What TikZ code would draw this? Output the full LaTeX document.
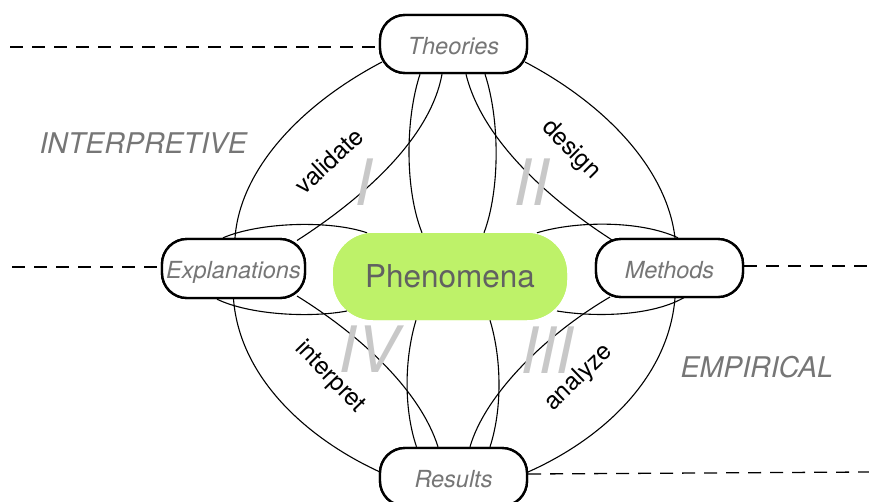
\documentclass[tikz,border=0pt]{standalone}
\usepackage{fontspec}
\setmainfont{TeX Gyre Heros}
\usetikzlibrary{calc}
\definecolor{lime}{RGB}{190,242,105}
\definecolor{labelgrey}{RGB}{118,118,118}
\definecolor{numgrey}{RGB}{200,200,200}
\begin{document}
\begin{tikzpicture}[x=1pt,y=-1pt,
  pill/.style={draw=black,line width=2.4pt,fill=white,rounded corners=25pt,
    minimum width=147pt,minimum height=58pt,inner sep=0pt,
    text height=20pt,text depth=0pt,text=labelgrey,
    font=\fontsize{23.5}{28}\selectfont\itshape},
  core/.style={fill=lime,rounded corners=40pt,minimum width=234pt,minimum height=87pt,
    inner sep=0pt,text height=22pt,text depth=0pt,text=black!62,
    font=\fontsize{31.5}{36}\selectfont},
  link/.style={line width=1.1pt},
  guide/.style={line width=1.3pt,dash pattern=on 13pt off 9pt},
  region/.style={text=labelgrey,font=\fontsize{28.5}{32}\selectfont\itshape},
  quad/.style={text=numgrey,font=\fontsize{64}{70}\selectfont\itshape},
  verb/.style={text=black,font=\fontsize{24.5}{28}\selectfont}]
\useasboundingbox (0,0) rectangle (869,501);

% the five concept boxes
\node[core] (P) at (450,276.5) {Phenomena};
\node[pill] (T) at (453.5,44) {Theories};
\node[pill,minimum width=143pt,minimum height=59pt] (E) at (233.5,268.5) {Explanations};
\node[pill] (M) at (669.5,268) {Methods};
\node[pill] (R) at (453.5,477) {Results};

% links between the boxes
\begin{scope}[link]
  % Theories -- Explanations
  \draw ([xshift=-71.5pt,yshift=-18pt]T.center) .. controls (300,105) and (240,170) .. ([xshift=1.5pt]E.north);
  \draw ([xshift=-11.5pt]T.south) .. controls (430,140) and (360,200) .. ([xshift=63.5pt,yshift=28pt]E.center);
  % Theories -- Methods
  \draw ([xshift=71.5pt,yshift=-18pt]T.center) .. controls (607,105) and (667,170) .. ([xshift=5.5pt]M.north);
  \draw ([xshift=12.5pt]T.south) .. controls (482,140) and (550,200) .. ([xshift=-57.5pt,yshift=28pt]M.center);
  % Theories -- Phenomena
  \draw ([xshift=-33.5pt]T.south) .. controls (405,120) and (405,190) .. ([xshift=-28pt]P.north);
  \draw ([xshift=31.5pt]T.south) .. controls (500,120) and (500,190) .. ([xshift=34pt]P.north);
  % Phenomena -- Results
  \draw ([xshift=-34pt]P.south) .. controls (404,360) and (404,410) .. ([xshift=-37pt]R.north);
  \draw ([xshift=40pt]P.south) .. controls (502,360) and (502,410) .. ([xshift=36.5pt]R.north);
  % Explanations -- Phenomena
  \draw ([xshift=-10.5pt]E.north) .. controls (260,222) and (330,220) .. ([xshift=-83pt]P.north);
  \draw ([xshift=-16.5pt]E.south) .. controls (250,315) and (310,318) .. ([xshift=-103pt,yshift=-34.5pt]P.center);
  % Methods -- Phenomena
  \draw ([xshift=87pt]P.north) .. controls (575,221) and (640,220) .. ([xshift=8.5pt]M.north);
  \draw ([xshift=107pt,yshift=-34.5pt]P.center) .. controls (600,318) and (655,315) .. ([xshift=15.5pt,yshift=-29pt]M.center);
  % Explanations -- Results
  \draw (E.south) .. controls (240,380) and (310,440) .. ([xshift=-73.5pt,yshift=5pt]R.center);
  \draw ([xshift=63.5pt,yshift=-27.5pt]E.center) .. controls (360,335) and (420,390) .. ([xshift=-15.5pt]R.north);
  % Methods -- Results
  \draw ([xshift=5.5pt]M.south) .. controls (668,380) and (600,440) .. ([xshift=74.5pt,yshift=5pt]R.center);
  \draw ([xshift=-59.5pt,yshift=-29pt]M.center) .. controls (545,335) and (485,395) .. ([xshift=16.5pt]R.north);
\end{scope}

% redraw the boxes above the links
\node[core] at (P.center) {Phenomena};
\node[pill] at (T.center) {Theories};
\node[pill,minimum width=143pt,minimum height=59pt] at (E.center) {Explanations};
\node[pill] at (M.center) {Methods};
\node[pill] at (R.center) {Results};

% level guides
\coordinate (g1) at (10,47);
\coordinate (g2) at (12,267);
\coordinate (g3) at (869,266);
\coordinate (g4) at (869,472);
\draw[guide] (g1) -- (g1 -| T.west);
\draw[guide] (g2) -- (g2 -| E.west);
\draw[guide] (g3 -| M.east) -- (g3);
\draw[guide] ([yshift=3pt]R.east) -- (g4);

% region names
\node[region,anchor=base west] (interp) at (36,153) {INTERPRETIVE};
\node[region,anchor=base west] (empir) at (677,377) {EMPIRICAL};

% quadrant numerals
\node[quad] (q1) at (363,182) {I};
\node[quad] (q2) at (531,182) {II};
\node[quad] (q3) at (547,350) {III};
\node[quad] (q4) at (369,349) {IV};

% activity labels
\node[verb,rotate=43] (validate) at (329,161) {validate};
\node[verb,rotate=-45] (design) at (571,150) {design};
\node[verb,rotate=-46] (interpret) at (330,377) {interpret};
\node[verb,rotate=44] (analyze) at (579,378) {analyze};
\end{tikzpicture}
\end{document}
